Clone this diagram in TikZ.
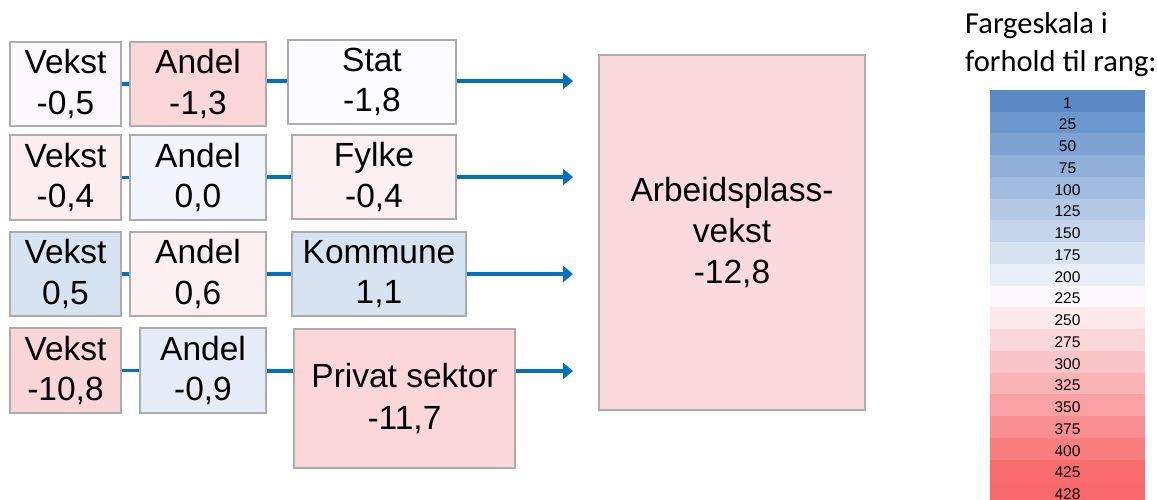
\documentclass[tikz,border=0pt]{standalone}
\usepackage{fontspec}
\setmainfont{Liberation Sans}
\newfontfamily\carlitofont{Carlito}
\usetikzlibrary{arrows.meta}
\definecolor{sblue}{RGB}{90,138,198}
\definecolor{swhite}{RGB}{252,252,255}
\definecolor{sred}{RGB}{248,105,107}
\definecolor{conn}{RGB}{0,112,192}
\definecolor{bordergray}{RGB}{172,172,172}
\begin{document}
\begin{tikzpicture}[x=1pt,y=-1pt,
  box/.style={draw=bordergray, line width=1.5pt, inner sep=0pt, align=center,
    font=\fontsize{33.5}{40.5}\selectfont},
  link/.style={draw=conn, line width=3.2pt},
  arr/.style={link, -{Triangle[length=10pt,width=16pt]}},
  scalerow/.style={inner sep=0pt, minimum width=155pt, minimum height=22pt,
    text height=14.6pt, text depth=0pt, font=\fontsize{15.5}{18}\selectfont}
]
\useasboundingbox (0,0) rectangle (1157,499);
\clip (0,0) rectangle (1157,499);

% row 1
\node[box, fill=sred!2!swhite, minimum width=111pt, minimum height=84pt] (v1) at (65.5,84) {Vekst\\-0,5};
\node[box, fill=sred!25!swhite, minimum width=136pt, minimum height=84pt] (a1) at (198,84) {Andel\\-1,3};
\node[box, fill=swhite, minimum width=168pt, minimum height=84pt] (stat) at (372,82) {Stat\\-1,8};
% row 2
\node[box, fill=sred!10!swhite, minimum width=111pt, minimum height=85pt] (v2) at (65.5,177.5) {Vekst\\-0,4};
\node[box, fill=sblue!6!swhite, minimum width=136pt, minimum height=85pt] (a2) at (198,177.5) {Andel\\0,0};
\node[box, fill=sred!8!swhite, minimum width=164pt, minimum height=84pt] (fylke) at (374,177) {Fylke\\-0,4};
% row 3
\node[box, fill=sblue!22!swhite, minimum width=111pt, minimum height=84pt] (v3) at (65.5,274) {Vekst\\0,5};
\node[box, fill=sred!9!swhite, minimum width=136pt, minimum height=84pt] (a3) at (198,274) {Andel\\0,6};
\node[box, fill=sblue!22!swhite, minimum width=174pt, minimum height=84pt] (kommune) at (379,274) {Kommune\\1,1};
% row 4
\node[box, fill=sred!26!swhite, minimum width=111pt, minimum height=85pt] (v4) at (65.5,370.5) {Vekst\\-10,8};
\node[box, fill=sblue!14!swhite, minimum width=126pt, minimum height=85pt] (a4) at (203,370.5) {Andel\\-0,9};
\node[box, fill=sred!25!swhite, minimum width=221pt, minimum height=139pt,
  font=\fontsize{33.5}{42}\selectfont] (privat) at (404.5,398.5) {Privat sektor\\-11,7};
% result
\node[box, fill=sred!23!swhite, minimum width=266pt, minimum height=355pt,
  font=\fontsize{33.5}{41}\selectfont] (total) at (732,232.5) {Arbeidsplass-\\vekst\\-12,8};

% arrow ends
\coordinate (e1) at (573,81);
\coordinate (e2) at (573,177);
\coordinate (e3) at (573,274);
\coordinate (e4) at (573,371);

% connectors
\draw[link] (v1) -- (a1);
\draw[link] (a1.east |- e1) -- (stat.west |- e1);
\draw[link] (v2) -- (a2);
\draw[link] (a2.east |- e2) -- (fylke.west |- e2);
\draw[link] (v3) -- (a3);
\draw[link] (a3) -- (kommune);
\draw[link] (v4) -- (a4);
\draw[link] (a4.east |- e4) -- (privat.west |- e4);

\draw[arr] (stat.east |- e1) -- (e1);
\draw[arr] (fylke.east |- e2) -- (e2);
\draw[arr] (kommune.east |- e3) -- (e3);
\draw[arr] (privat.east |- e4) -- (e4);

% colour scale
\node[anchor=base west, inner sep=0pt, align=left,
  font=\carlitofont\fontsize{30.5}{37.6}\selectfont] (title) at (965,71) {Fargeskala i\\forhold til rang:};
\foreach \v/\c [count=\i from 0] in {
  1/sblue, 25/sblue!89!swhite, 50/sblue!78!swhite, 75/sblue!67!swhite,
  100/sblue!56!swhite, 125/sblue!45!swhite, 150/sblue!34!swhite,
  175/sblue!22!swhite, 200/sblue!12!swhite, 225/sred!2!swhite,
  250/sred!12!swhite, 275/sred!25!swhite, 300/sred!37!swhite,
  325/sred!49!swhite, 350/sred!62!swhite, 375/sred!74!swhite,
  400/sred!86!swhite, 425/sred!98!swhite, 428/sred}{
  \node[scalerow, fill=\c] (r\v) at (1067.5,{90+\i*21.75+10.875}) {\v};
}
\end{tikzpicture}
\end{document}
